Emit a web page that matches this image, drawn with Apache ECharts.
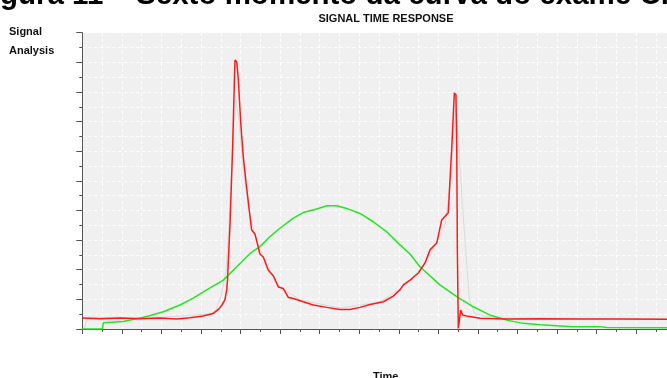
<!DOCTYPE html>
<html>
<head>
<meta charset="utf-8">
<title>Signal time response</title>
<script src="https://cdn.jsdelivr.net/npm/echarts@6/dist/echarts.min.js"></script>
<style>
  html, body { margin: 0; padding: 0; background: #fff; }
  #chart { width: 667px; height: 378px; }
</style>
</head>
<body>
<div id="chart"></div>
<script>
// red trace (time, signal)
var redTime = [0, 8.9, 19.1, 29.2, 39.2, 47.7, 54.5, 61.0, 66.1, 69.1, 70.6, 72.1, 73.0, 73.4, 74.7, 76.0, 76.9, 77.2, 78.1, 78.9,
  80.1, 81.4, 82.8, 84.4, 85.6, 87.3, 89.8, 91.5, 94.0, 96.6, 99.1, 101.6, 104.2, 106.7, 111.7, 116.8, 123.6, 130.3, 135.3, 140.4,
  145.5, 152.2, 157.2, 160.6, 162.3, 165.7, 169.9, 173.3, 175.8, 179.2, 181.7, 185.0, 185.9, 186.8, 187.6, 188.1, 188.9, 189.3, 189.6, 190.1,
  191.3, 192.3, 194.3, 201.1, 214.6, 231.4, 251.6, 271.9, 295.6];
var redSignal = [3.7, 3.5, 3.7, 3.5, 3.7, 3.4, 3.8, 4.4, 5.2, 6.8, 8.1, 9.8, 13.2, 16.5, 35.8, 61.4, 84.0, 90.8, 90.1, 84.0,
  69.5, 58.1, 49.3, 40.2, 33.4, 32.1, 25.3, 24.3, 19.9, 17.9, 14.2, 13.7, 10.6, 10.3, 9.2, 8.1, 7.3, 6.6, 6.6, 7.3,
  8.3, 9.2, 11.1, 13.2, 14.9, 16.5, 18.9, 22.3, 26.7, 29.0, 36.8, 39.2, 50.3, 61.4, 72.9, 79.7, 79.0, 61.4, 27.7, 0.2,
  6.4, 4.7, 4.4, 3.6, 3.4, 3.5, 3.4, 3.4, 3.3];

// green trace
var greenTime = [0, 10.2, 10.6, 20.7, 32.6, 41.0, 49.4, 56.1, 62.9, 71.3, 78.1, 84.8, 89.8, 94.9, 99.9, 106.7, 111.7, 118.5, 123.6, 128.6,
  133.7, 140.4, 147.1, 153.9, 160.6, 165.7, 170.7, 180.8, 189.3, 197.7, 206.1, 214.6, 223.0, 231.4, 248.2, 261.7, 265.1, 295.6];
var greenSignal = [0, 0, 2.1, 2.5, 4.2, 5.8, 8.1, 10.4, 13.2, 16.5, 21.0, 25.5, 27.8, 31.2, 34.0, 37.4, 39.3, 40.5, 41.6, 41.6,
  40.7, 39.0, 36.2, 32.8, 28.4, 25.3, 21.0, 14.9, 10.9, 7.5, 4.7, 3.0, 1.9, 1.4, 0.8, 0.8, 0.5, 0.4];

// faint grey reference trace
var grayTime = [0.9, 2.9, 34.2, 64.6, 67.6, 70.1, 72.7, 74.7, 76.2, 77.7, 79.2, 81.2, 83.8, 87.3, 92.4, 99.9, 110.1, 130.3, 150.5, 165.7,
  175.8, 183.4, 186.9, 188.5, 189.3, 192.0, 195.7, 198.5, 211.2, 295.6];
var graySignal = [0, 4.0, 3.7, 5.1, 6.4, 11.1, 19.9, 41.5, 63.8, 77.3, 70.5, 55.3, 41.8, 31.4, 22.6, 14.2, 9.8, 7.1, 9.1, 15.9,
  25.0, 35.1, 53.7, 73.9, 72.9, 43.5, 9.8, 5.1, 3.7, 3.4];

function pairs(xs, ys) {
  return xs.map(function (x, i) { return [x, ys[i]]; });
}

var chart = echarts.init(document.getElementById('chart'), null, { renderer: 'canvas' });
var fontFam = '"Liberation Sans", Arial, sans-serif';
var gridDash = { color: '#ffffff', type: [3, 3], width: 1 };

var option = {
  animation: false,
  backgroundColor: '#ffffff',
  graphic: [
    { type: 'text', left: 0, top: -19, style: { text: 'gura 11 \u2013 Sexto momento da curva do exame Cl', fill: '#000', font: 'bold 29.5px ' + fontFam } },
    { type: 'text', x: 386, y: 13, style: { text: 'SIGNAL TIME RESPONSE', fill: '#111', align: 'center', font: 'bold 11px ' + fontFam } },
    { type: 'text', left: 9, top: 26, style: { text: 'Signal', fill: '#111', font: 'bold 11px ' + fontFam } },
    { type: 'text', left: 9, top: 45, style: { text: 'Analysis', fill: '#111', font: 'bold 11px ' + fontFam } },
    { type: 'text', left: 373, top: 371, style: { text: 'Time', fill: '#111', font: 'bold 11px ' + fontFam } }
  ],
  grid: {
    left: 82.3, right: 0, top: 32.7, bottom: 49,
    show: true, backgroundColor: '#f0f0f0', borderWidth: 0
  },
  xAxis: {
    type: 'value', min: 0, max: 295.6, interval: 20,
    axisLine: { lineStyle: { color: '#555', width: 1 } },
    axisTick: { show: true, length: 5, lineStyle: { color: '#555' } },
    minorTick: { show: true, splitNumber: 2, length: 3, lineStyle: { color: '#555' } },
    axisLabel: { show: false },
    splitLine: { show: true, lineStyle: gridDash },
    minorSplitLine: { show: true, lineStyle: gridDash }
  },
  yAxis: {
    type: 'value', min: 0, max: 100, interval: 10,
    axisLine: { show: true, lineStyle: { color: '#555', width: 1 } },
    axisTick: { show: true, length: 6, lineStyle: { color: '#555' } },
    minorTick: { show: true, splitNumber: 2, length: 3, lineStyle: { color: '#555' } },
    axisLabel: { show: false },
    splitLine: { show: true, lineStyle: gridDash },
    minorSplitLine: { show: true, lineStyle: gridDash }
  },
  series: [
    {
      name: 'reference', type: 'line', data: pairs(grayTime, graySignal),
      showSymbol: false, lineStyle: { color: '#dadada', width: 1 }, z: 1
    },
    {
      name: 'green', type: 'line', data: pairs(greenTime, greenSignal),
      showSymbol: false, lineStyle: { color: '#22e622', width: 1.5 }, z: 2
    },
    {
      name: 'red', type: 'line', data: pairs(redTime, redSignal),
      showSymbol: false, lineStyle: { color: '#ff1a1a', width: 1.5 }, z: 3
    }
  ]
};

chart.setOption(option);
</script>
</body>
</html>
